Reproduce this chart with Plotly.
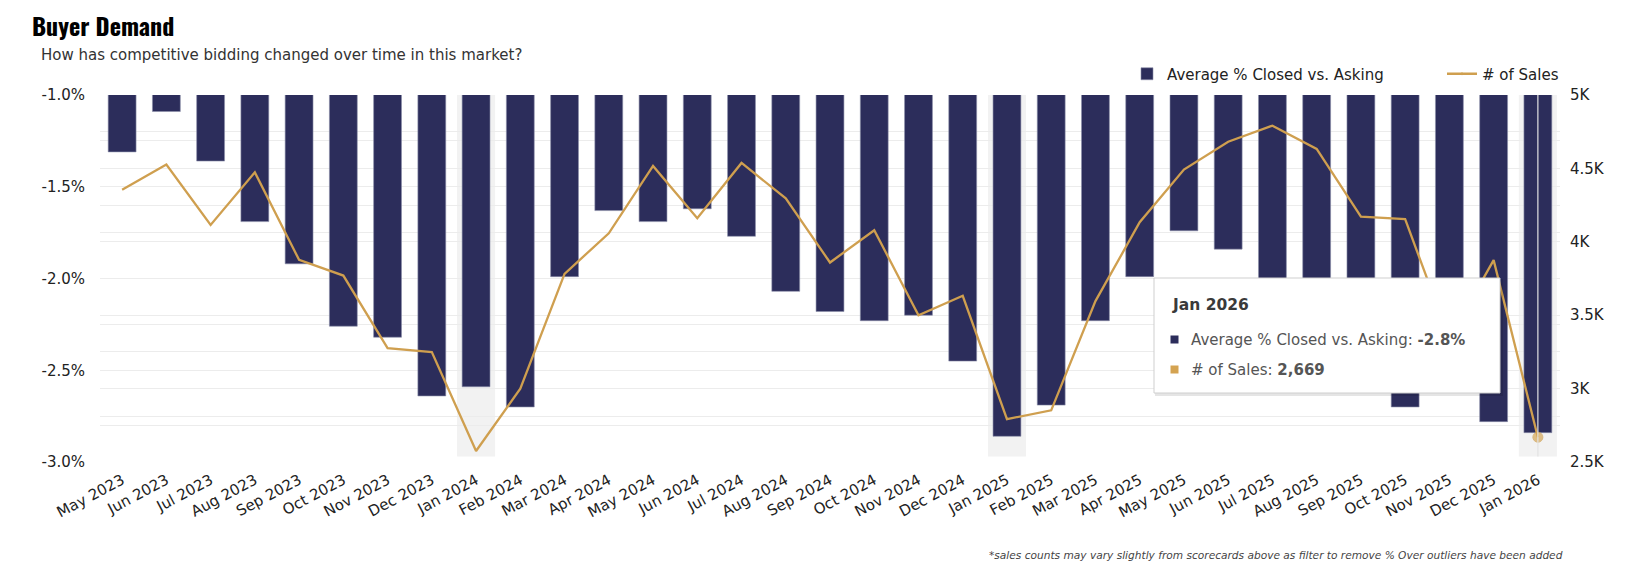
import plotly.graph_objects as go

months = ["May 2023", "Jun 2023", "Jul 2023", "Aug 2023", "Sep 2023", "Oct 2023", "Nov 2023", "Dec 2023",
          "Jan 2024", "Feb 2024", "Mar 2024", "Apr 2024", "May 2024", "Jun 2024", "Jul 2024", "Aug 2024",
          "Sep 2024", "Oct 2024", "Nov 2024", "Dec 2024", "Jan 2025", "Feb 2025", "Mar 2025", "Apr 2025",
          "May 2025", "Jun 2025", "Jul 2025", "Aug 2025", "Sep 2025", "Oct 2025", "Nov 2025", "Dec 2025",
          "Jan 2026"]

avg_pct_closed_vs_asking = [-1.31, -1.09, -1.36, -1.69, -1.92, -2.26, -2.32, -2.64,
                            -2.59, -2.70, -1.99, -1.63, -1.69, -1.62, -1.77, -2.07,
                            -2.18, -2.23, -2.20, -2.45, -2.86, -2.69, -2.23, -1.99,
                            -1.74, -1.84, -2.12, -2.25, -2.40, -2.70, -2.55, -2.78,
                            -2.84]

num_sales = [4354, 4526, 4115, 4473, 3877, 3770, 3276, 3249,
             2575, 2999, 3782, 4058, 4517, 4160, 4537, 4296,
             3859, 4079, 3500, 3632, 2792, 2852, 3596, 4133,
             4492, 4682, 4791, 4633, 4172, 4154, 3340, 3875,
             2669]

left_ticks = [-3.0, -2.5, -2.0, -1.5, -1.0]
left_tick_labels = ["-3.0%", "-2.5%", "-2.0%", "-1.5%", "-1.0%"]
right_ticks = [2500, 3000, 3500, 4000, 4500, 5000]
right_tick_labels = ["2.5K", "3K", "3.5K", "4K", "4.5K", "5K"]

NAVY = "#2c2d5b"
GOLD = "#cf9f4f"
GRID = "#ececec"
FONT = "DejaVu Sans"

W, H = 1628, 574
ML, MR, MT, MB = 92, 76, 87, 120
PW, PH = W - ML - MR, H - MT - MB


def px(x):
    return (x - ML) / PW


def py(y):
    return (H - MB - y) / PH


n = len(months)
hover_idx = n - 1
marker_sizes = [0] * n
marker_sizes[hover_idx] = 10

fig = go.Figure()
fig.add_trace(go.Bar(
    x=months, y=avg_pct_closed_vs_asking, name="Average % Closed vs. Asking",
    marker=dict(color=NAVY, line=dict(color="#8c8eaa", width=0.6)),
    yaxis="y",
))
fig.add_trace(go.Scatter(
    x=months, y=num_sales, name="# of Sales", mode="lines+markers",
    line=dict(color=GOLD, width=2.3),
    marker=dict(size=marker_sizes, color="#d6a756"),
    yaxis="y2",
))

shapes = []
# light bands behind January bars
for i, m in enumerate(months):
    if m.startswith("Jan"):
        shapes.append(dict(type="rect", xref="x", yref="y", x0=i - 0.43, x1=i + 0.43,
                           y0=-1.0, y1=-2.97, fillcolor="#f2f2f2", line=dict(width=0),
                           layer="below"))
# hover spike on the last month
shapes.append(dict(type="line", xref="x", yref="y", x0=hover_idx, x1=hover_idx,
                   y0=-1.0, y1=-2.97, line=dict(color="#e2e2e2", width=1.2), layer="above"))

# tooltip box (shadow + box)
tx0, tx1, ty0, ty1 = 1146, 1492, 270, 385
shapes.append(dict(type="rect", xref="paper", yref="paper", x0=px(tx0 + 1), x1=px(tx1 + 3),
                   y0=py(ty1 + 3), y1=py(ty0 + 1), fillcolor="rgba(0,0,0,0.10)",
                   line=dict(width=0), layer="above"))
shapes.append(dict(type="rect", xref="paper", yref="paper", x0=px(tx0), x1=px(tx1),
                   y0=py(ty1), y1=py(ty0), fillcolor="white",
                   line=dict(color="#cfcfcf", width=1), layer="above"))
# tooltip legend squares
for yy, col in [(331.5, NAVY), (361.5, "#d4a351")]:
    shapes.append(dict(type="rect", xref="paper", yref="paper", x0=px(1162.5), x1=px(1170.5),
                       y0=py(yy + 4), y1=py(yy - 4), fillcolor=col, line=dict(width=0),
                       layer="above"))

annotations = [
    dict(text="How has competitive bidding changed over time in this market?", xref="paper", yref="paper",
         x=px(31), y=py(47), xanchor="left", yanchor="middle", showarrow=False,
         font=dict(family=FONT, size=15, color="#333333")),
    dict(text="*sales counts may vary slightly from scorecards above as filter to remove % Over outliers have been added",
         xref="paper", yref="paper", x=px(1557), y=py(547), xanchor="right", yanchor="middle",
         showarrow=False, font=dict(family=FONT, size=10.6, color="#444444", style="italic")),
    dict(text="<b>" + months[hover_idx] + "</b>", xref="paper", yref="paper", x=px(1161.5), y=py(296.5),
         xanchor="left", yanchor="middle", showarrow=False,
         font=dict(family=FONT, size=15.5, color="#3a3a3a")),
    dict(text="Average % Closed vs. Asking: <b>" + f"{avg_pct_closed_vs_asking[hover_idx]:.1f}%" + "</b>",
         xref="paper", yref="paper", x=px(1181), y=py(331.5), xanchor="left", yanchor="middle",
         showarrow=False, font=dict(family=FONT, size=15, color="#555555")),
    dict(text="# of Sales: <b>" + f"{num_sales[hover_idx]:,}" + "</b>",
         xref="paper", yref="paper", x=px(1181), y=py(361.5), xanchor="left", yanchor="middle",
         showarrow=False, font=dict(family=FONT, size=15, color="#555555")),
]

fig.update_layout(
    width=W, height=H,
    margin=dict(l=ML, r=MR, t=MT, b=MB, autoexpand=False),
    paper_bgcolor="white", plot_bgcolor="white",
    font=dict(family=FONT, size=14, color="#222222"),
    title=dict(text="<b>Buyer Demand</b>", x=24 / W, xanchor="left", xref="container",
               y=1 - 19.5 / H, yanchor="middle", yref="container",
               font=dict(family="Oswald, Liberation Sans Narrow, DejaVu Sans Condensed, sans-serif", size=24,
                         color="#000000")),
    bargap=0.37,
    showlegend=True,
    legend=dict(orientation="h", x=px(1119), xanchor="left", y=py(66), yanchor="middle",
                font=dict(family=FONT, size=15, color="#222222"), traceorder="normal",
                entrywidth=270, entrywidthmode="pixels",
                bgcolor="rgba(0,0,0,0)"),
    xaxis=dict(type="category", tickangle=-28, showgrid=False, showline=False, ticks="",
               tickfont=dict(family=FONT, size=15, color="#222222"), automargin=False,
               range=[-0.5, n - 0.5], ticklabelstandoff=6),
    yaxis=dict(range=[-3.0, -1.0], tickvals=left_ticks, ticktext=left_tick_labels,
               showgrid=True, gridcolor=GRID, gridwidth=1, zeroline=False, showline=False,
               minor=dict(dtick=0.25, showgrid=True, gridcolor=GRID, gridwidth=1),
               tickfont=dict(family=FONT, size=15, color="#222222"), automargin=False,
               ticklabelstandoff=14),
    yaxis2=dict(range=[2500, 5000], tickvals=right_ticks, ticktext=right_tick_labels, overlaying="y",
                side="right", showgrid=True, gridcolor=GRID, gridwidth=1, zeroline=False, showline=False,
                minor=dict(dtick=250, showgrid=True, gridcolor=GRID, gridwidth=1),
                tickfont=dict(family=FONT, size=15, color="#222222"), automargin=False,
                ticklabelstandoff=9),
    shapes=shapes,
    annotations=annotations,
)

fig.write_html("out.html")
